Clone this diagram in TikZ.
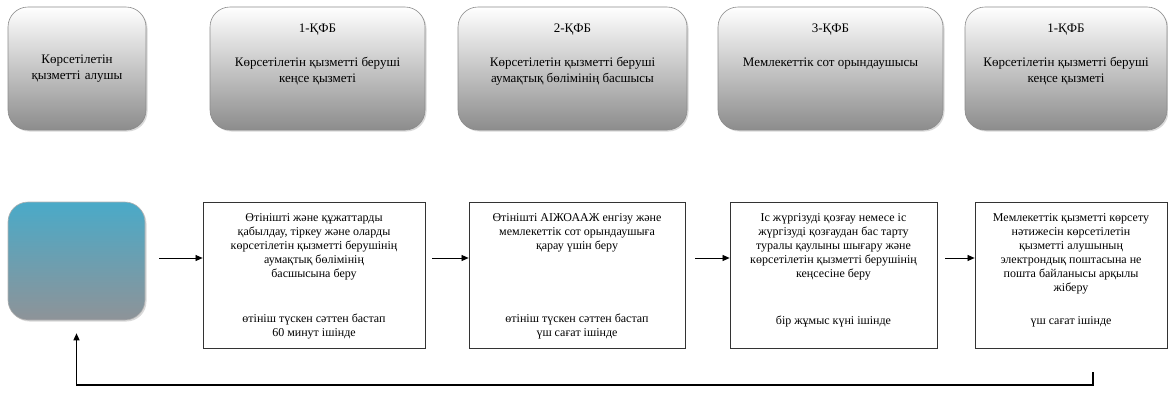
\documentclass[tikz,border=0pt]{standalone}
\usepackage{fontspec}
\setmainfont{Liberation Serif}
\usetikzlibrary{positioning,shadows,arrows.meta}
\definecolor{clientblue}{RGB}{74,170,200}
\definecolor{clientgrey}{RGB}{142,147,152}
% Textblock oben ausgerichtet: Hoehe, Breite, erste Grundlinie, Text
\newcommand{\boxtext}[4]{\parbox[c][#1pt][t]{#2pt}{\centering\rule{0pt}{#3pt}#4\par}}
\tikzset{
  role/.style={draw=black!45, line width=0.6pt, rounded corners=20pt,
    top color=white, bottom color=black!45,
    drop shadow={shadow xshift=1.5pt, shadow yshift=-1.5pt, opacity=0.3},
    inner sep=0pt, font=\fontsize{13}{16}\selectfont},
  stepbox/.style={draw=black!80, line width=0.8pt, fill=white, inner sep=0pt,
    font=\fontsize{12}{14}\selectfont},
  flow/.style={line width=0.7pt, -{Triangle[length=7pt,width=6pt]}},
}
\begin{document}
\begin{tikzpicture}[x=1pt, y=-1pt]
  \useasboundingbox (0,0) rectangle (1168,394);
  % Rollen oben
  \node[role, minimum width=138pt, minimum height=123pt, align=center, text width=128pt]
    (recv) at (77,68.5) {Көрсетілетін\\ қызметті алушы};
  \node[role] (office) at (317.5,68.5)
    {\boxtext{123}{215}{25}{1-ҚФБ\\[18pt]Көрсетілетін қызметті беруші\\ кеңсе қызметі}};
  \node[role] (dept) at (572.5,68.5)
    {\boxtext{123}{229}{25}{2-ҚФБ\\[18pt]Көрсетілетін қызметті беруші\\ аумақтық бөлімінің басшысы}};
  \node[role] (bailiff) at (830.5,68.5)
    {\boxtext{123}{225}{25}{3-ҚФБ\\[18pt]Мемлекеттік сот орындаушысы}};
  \node[role] (office2) at (1066,68.5)
    {\boxtext{123}{202}{25}{1-ҚФБ\\[18pt]Көрсетілетін қызметті беруші\\ кеңсе қызметі}};
  % Startfeld
  \node[draw=black!30, line width=0.6pt, rounded corners=20pt, top color=clientblue,
    bottom color=clientgrey, minimum width=137pt, minimum height=118pt,
    drop shadow={shadow xshift=1.5pt, shadow yshift=-1.5pt, opacity=0.3}]
    (client) at (76.5,261) {};
  % Arbeitsschritte
  \node[stepbox] (s1) at (314,275)
    {\boxtext{146}{222}{19}{Өтінішті және құжаттарды\\ қабылдау, тіркеу және оларды\\
     көрсетілетін қызметті берушінің\\ аумақтық бөлімінің\\ басшысына беру\\[31pt]
     өтініш түскен сәттен бастап\\ 60 минут ішінде}};
  \node[stepbox] (s2) at (577,275)
    {\boxtext{146}{216}{19}{Өтінішті АІЖОААЖ енгізу және\\ мемлекеттік сот орындаушыға\\
     қарау үшін беру\\[59pt] өтініш түскен сәттен бастап\\ үш сағат ішінде}};
  \node[stepbox] (s3) at (833.5,275)
    {\boxtext{146}{207}{19}{Іс жүргізуді қозғау немесе іс\\ жүргізуді қозғаудан бас тарту\\
     туралы қаулыны шығару және\\ көрсетілетін қызметті берушінің\\ кеңсесіне беру\\[33pt]
     бір жұмыс күні ішінде}};
  \node[stepbox] (s4) at (1071,275)
    {\boxtext{146}{192}{19}{Мемлекеттік қызметті көрсету\\ нәтижесін көрсетілетін\\
     қызметті алушының\\ электрондық поштасына не\\ пошта байланысы арқылы\\ жіберу\\[19pt]
     үш сағат ішінде}};
  % Pfeile
  \coordinate (row) at (0,258);
  \draw[flow, shorten <=14pt] (client.east |- row) -- (s1.west |- row);
  \draw[flow, shorten <=7pt] (s1.east |- row) -- (s2.west |- row);
  \draw[flow, shorten <=10pt] (s2.east |- row) -- (s3.west |- row);
  \draw[flow, shorten <=8pt] (s3.east |- row) -- (s4.west |- row);
  % Rueckfuehrung
  \coordinate (back) at (1093,372);
  \draw[flow, line width=1.2pt] (back) -- ++(0,13) -| ([yshift=-13pt]client.south);
\end{tikzpicture}
\end{document}
